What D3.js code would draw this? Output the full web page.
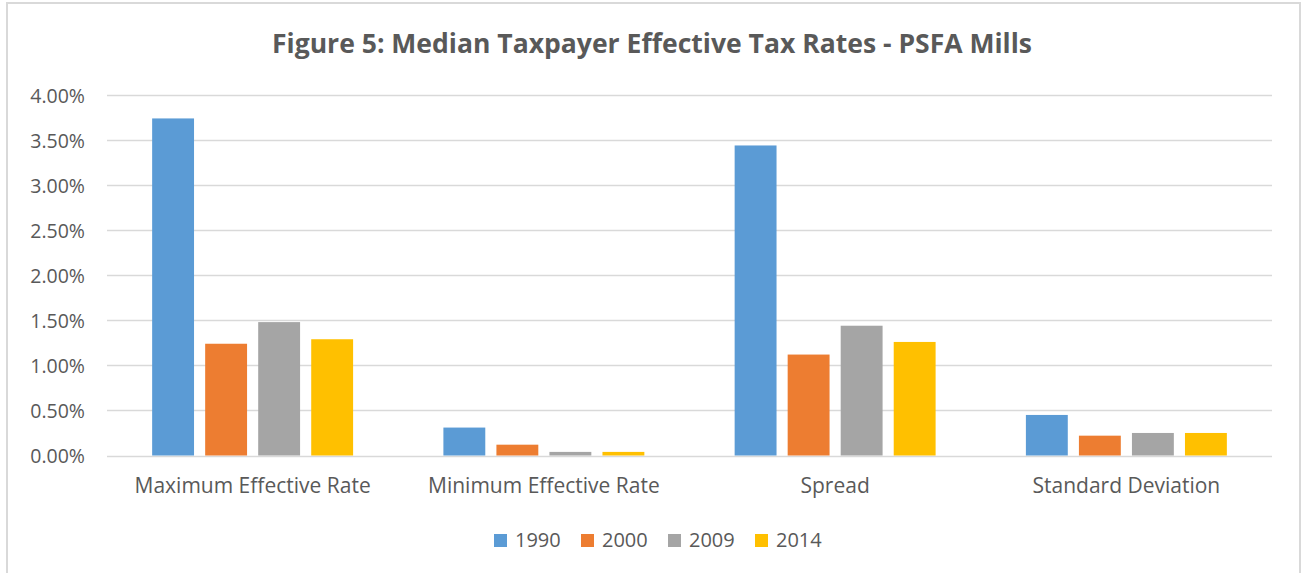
<!DOCTYPE html>
<html><head><meta charset="utf-8">
<script src="https://cdnjs.cloudflare.com/ajax/libs/d3/7.8.5/d3.min.js"></script>
<style>html,body{margin:0;padding:0;background:#fff;}svg{display:block;}</style>
</head><body>
<svg id="chart" width="1302" height="573"></svg>
<script>
const categories = ["Maximum Effective Rate", "Minimum Effective Rate", "Spread", "Standard Deviation"];
const seriesNames = ["1990", "2000", "2009", "2014"];
const s1990 = [3.74, 0.31, 3.44, 0.45];
const s2000 = [1.24, 0.12, 1.12, 0.22];
const s2009 = [1.48, 0.04, 1.44, 0.25];
const s2014 = [1.29, 0.04, 1.26, 0.25];
const yTicks = [0, 0.5, 1, 1.5, 2, 2.5, 3, 3.5, 4];
const colors = ["#5B9BD5", "#ED7D31", "#A5A5A5", "#FFC000"];
const title = "Figure 5: Median Taxpayer Effective Tax Rates - PSFA Mills";

const series = [s1990, s2000, s2009, s2014];
const svg = d3.select("#chart");
const font = "'Open Sans', 'Liberation Sans', sans-serif";
const txt = "#595959";

// chart border
svg.append("rect").attr("x", 7).attr("y", 3).attr("width", 1293).attr("height", 600)
  .attr("fill", "#fff").attr("stroke", "#D9D9D9").attr("stroke-width", 2);

const plotL = 107, plotR = 1272, plotT = 95, plotB = 455.5;
const x = d3.scaleBand().domain(categories).range([plotL, plotR]).paddingInner(0).paddingOuter(0);
const y = d3.scaleLinear().domain([0, 4]).range([plotB, plotT]);
const groupW = x.bandwidth() * 0.69;
const xs = d3.scaleBand().domain(seriesNames).range([0, groupW]).paddingInner(0.21);

// gridlines
svg.append("g").selectAll("line").data(yTicks).join("line")
  .attr("x1", plotL).attr("x2", plotR)
  .attr("y1", d => Math.round(y(d)) + 0.5).attr("y2", d => Math.round(y(d)) + 0.5)
  .attr("stroke", "#D9D9D9").attr("stroke-width", 1.5);

// y axis labels
const yAxis = d3.axisLeft(y).tickValues(yTicks).tickFormat(d => d.toFixed(2) + "%").tickSize(0).tickPadding(0);
const ga = svg.append("g").attr("transform", `translate(${85},0)`).call(yAxis);
ga.select(".domain").remove();
ga.selectAll("text").attr("font-family", font).attr("font-size", 19.5).attr("fill", txt).attr("dy", "0.38em");

// bars
const groups = svg.append("g").selectAll("g").data(categories).join("g")
  .attr("transform", d => `translate(${x(d) + (x.bandwidth() - groupW) / 2},0)`);
groups.selectAll("rect").data((c, ci) => seriesNames.map((s, si) => ({s, si, v: series[si][ci]})))
  .join("rect")
  .attr("x", d => xs(d.s)).attr("width", xs.bandwidth())
  .attr("y", d => y(d.v)).attr("height", d => plotB - y(d.v))
  .attr("fill", d => colors[d.si]);

// x axis labels
const xAxis = d3.axisBottom(x).tickSize(0).tickPadding(0);
const gx = svg.append("g").attr("transform", `translate(0,${493})`).call(xAxis);
gx.select(".domain").remove();
gx.selectAll("text").attr("font-family", font).attr("font-size", 21).attr("fill", txt).attr("dy", 0);

// title
svg.append("text").attr("x", 652).attr("y", 53).attr("text-anchor", "middle")
  .attr("font-family", font).attr("font-weight", "bold").attr("font-size", 26.5).attr("fill", txt)
  .attr("textLength", 760).attr("lengthAdjust", "spacingAndGlyphs")
  .text(title);

// legend
const legX = [494, 581, 668, 755];
const lg = svg.append("g").selectAll("g").data(seriesNames).join("g")
  .attr("transform", (d, i) => `translate(${legX[i]},0)`);
lg.append("rect").attr("x", 0).attr("y", 534).attr("width", 13).attr("height", 13).attr("fill", (d, i) => colors[i]);
lg.append("text").attr("x", 21).attr("y", 547).attr("font-family", font).attr("font-size", 20).attr("fill", txt).text(d => d);
</script>
</body></html>
